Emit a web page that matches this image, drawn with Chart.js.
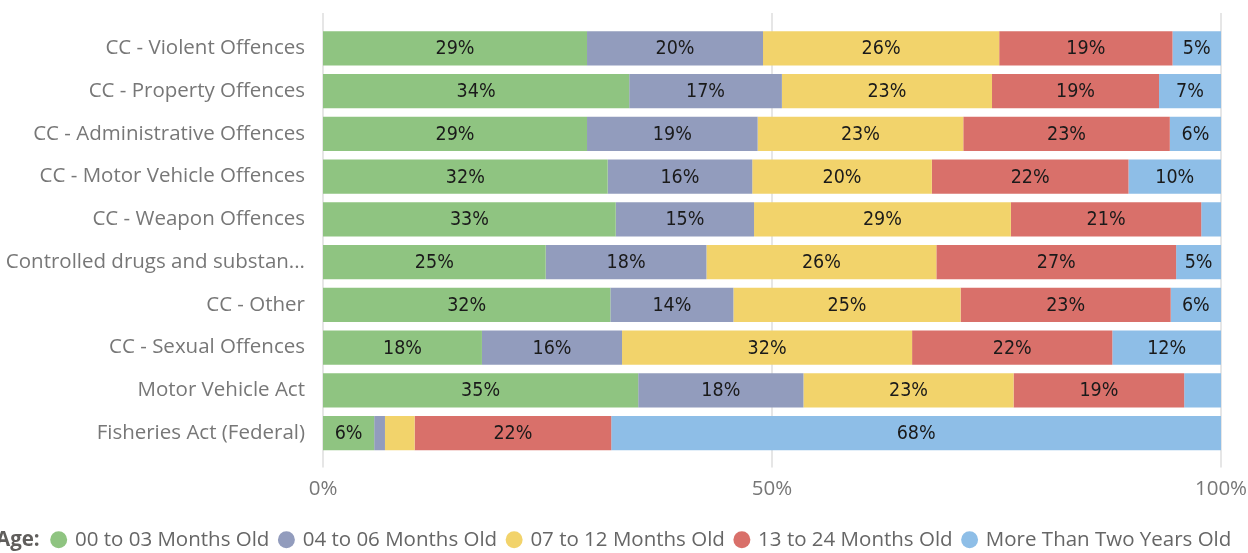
<!DOCTYPE html>
<html>
<head>
<meta charset="utf-8">
<script src="https://cdn.jsdelivr.net/npm/chart.js@4"></script>
<style>
  body { margin: 0; background: #fff; }
</style>
</head>
<body>
<canvas id="ageChart" width="1248" height="553"></canvas>
<script>
// === DATA ===
const offences = [
  "CC - Violent Offences",
  "CC - Property Offences",
  "CC - Administrative Offences",
  "CC - Motor Vehicle Offences",
  "CC - Weapon Offences",
  "Controlled drugs and substan...",
  "CC - Other",
  "CC - Sexual Offences",
  "Motor Vehicle Act",
  "Fisheries Act (Federal)"
];

const ageGroups = ["00 to 03 Months Old", "04 to 06 Months Old", "07 to 12 Months Old", "13 to 24 Months Old", "More Than Two Years Old"];

const age00to03 = [29.4, 34.1, 29.4, 31.7, 32.6, 24.8, 32.0, 17.7, 35.1, 5.7];
const age04to06 = [19.6, 17.0, 19.0, 16.1, 15.4, 17.9, 13.7, 15.6, 18.4, 1.2];
const age07to12 = [26.3, 23.4, 22.9, 20.0, 28.6, 25.6, 25.3, 32.3, 23.4, 3.3];
const age13to24 = [19.3, 18.6, 23.0, 21.9, 21.2, 26.7, 23.4, 22.3, 19.0, 21.9];
const ageOver2y = [5.4, 6.9, 5.7, 10.3, 2.2, 5.0, 5.6, 12.1, 4.1, 67.9];

const xTicks = [0, 50, 100];

const colors = ["#8fc481", "#929cbd", "#f2d36b", "#d9706a", "#8ebee7"];

const uiFont = "'Segoe UI', 'Open Sans', sans-serif";

// === PLUGINS ===
// vertical gridlines running a bit past the bars, like the original
const gridPlugin = {
  id: "fullGrid",
  beforeDatasetsDraw(chart) {
    const { ctx, chartArea, scales } = chart;
    ctx.save();
    ctx.strokeStyle = "#e6e6e6";
    ctx.lineWidth = 2;
    xTicks.forEach(v => {
      const x = Math.round(scales.x.getPixelForValue(v));
      ctx.beginPath();
      ctx.moveTo(x, chartArea.top - 14);
      ctx.lineTo(x, chartArea.bottom + 13);
      ctx.stroke();
    });
    ctx.restore();
  }
};

// percent labels centred in each segment
const labelPlugin = {
  id: "segLabels",
  afterDatasetsDraw(chart) {
    const { ctx } = chart;
    ctx.save();
    ctx.font = "19.5px 'DejaVu Sans Condensed', 'Liberation Sans Narrow', sans-serif";
    ctx.fillStyle = "#1a1a1a";
    ctx.textAlign = "center";
    ctx.textBaseline = "middle";
    chart.data.datasets.forEach((ds, i) => {
      chart.getDatasetMeta(i).data.forEach((bar, j) => {
        const v = ds.data[j];
        if (v < 4.5) return;
        ctx.fillText(Math.round(v) + "%", (bar.x + bar.base) / 2, bar.y + 1);
      });
    });
    ctx.restore();
  }
};

// shift the legend row and put the "Age:" title in front of it
const legendTitlePlugin = {
  id: "legendTitle",
  afterLayout(chart) {
    const lg = chart.legend;
    lg.left += 18; lg.right += 18;
    lg.top += 7; lg.bottom += 7;
  },
  afterDraw(chart) {
    const boxes = chart.legend.legendHitBoxes;
    if (!boxes || !boxes.length) return;
    const b = boxes[0];
    const { ctx } = chart;
    ctx.save();
    ctx.font = "bold 20.5px " + uiFont;
    ctx.fillStyle = "#605e5c";
    ctx.textAlign = "right";
    ctx.textBaseline = "middle";
    ctx.fillText("Age:", b.left - 13, b.top + b.height / 2);
    ctx.restore();
  }
};

// === CHART ===
new Chart(document.getElementById("ageChart"), {
  type: "bar",
  data: {
    labels: offences,
    datasets: ageGroups.map((g, i) => ({
      label: g,
      data: [age00to03, age04to06, age07to12, age13to24, ageOver2y][i],
      backgroundColor: colors[i],
      categoryPercentage: 0.8,
      barPercentage: 1.0
    }))
  },
  options: {
    responsive: false,
    animation: false,
    indexAxis: "y",
    layout: { padding: { top: 27, left: 0, right: 0, bottom: 0 } },
    plugins: {
      legend: {
        position: "bottom",
        labels: {
          usePointStyle: true,
          pointStyle: "circle",
          boxWidth: 12,
          boxHeight: 12,
          padding: 11,
          color: "#666666",
          font: { family: uiFont, size: 20.5 }
        }
      },
      tooltip: { enabled: false }
    },
    scales: {
      x: {
        stacked: true,
        min: 0,
        max: 100,
        grid: { display: false, drawTicks: false },
        border: { display: false },
        afterBuildTicks: s => { s.ticks = xTicks.map(v => ({ value: v })); },
        afterFit: s => { s.height = 57; s.paddingRight = 27; },
        ticks: {
          padding: 22,
          color: "#777777",
          font: { family: uiFont, size: 20.5 },
          callback: v => v + "%"
        }
      },
      y: {
        stacked: true,
        grid: { display: false, drawTicks: false },
        border: { display: false },
        afterFit: s => { s.width = 323; s.paddingTop = 0; },
        ticks: {
          padding: 18,
          color: "#777777",
          font: { family: uiFont, size: 20.5 }
        }
      }
    }
  },
  plugins: [gridPlugin, labelPlugin, legendTitlePlugin]
});
</script>
</body>
</html>
